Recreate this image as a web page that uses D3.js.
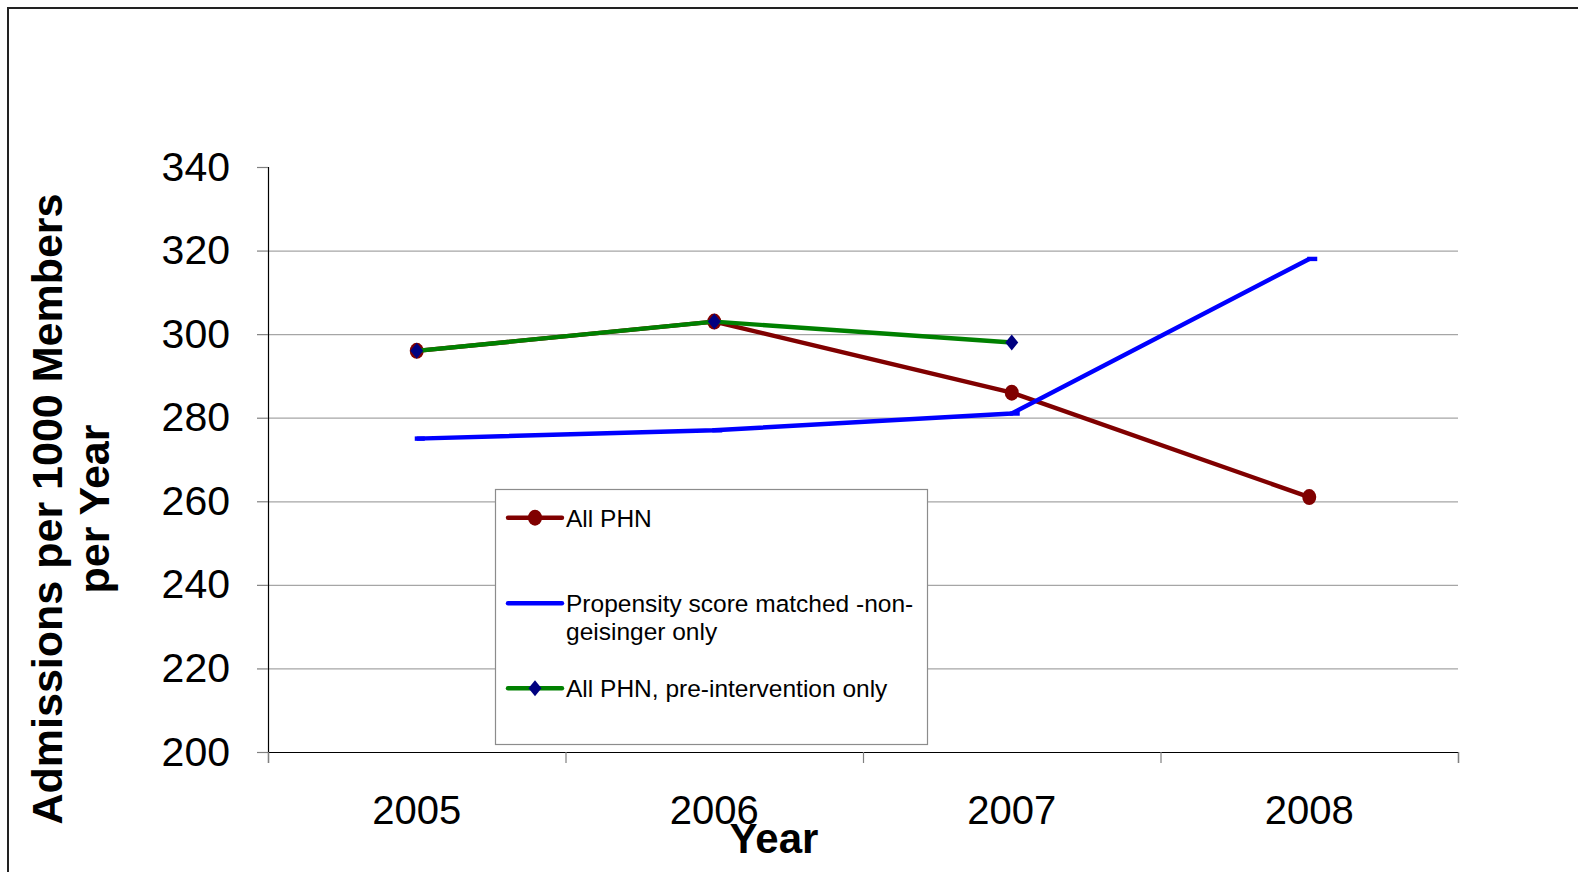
<!DOCTYPE html>
<html>
<head>
<meta charset="utf-8">
<script src="https://cdn.jsdelivr.net/npm/d3@7"></script>
<style>
  body { margin: 0; background: #fff; }
  svg text { font-family: "Liberation Sans", Arial, sans-serif; }
</style>
</head>
<body>
<div id="chart"></div>
<script>
/* DATA */
const years = ["2005", "2006", "2007", "2008"];
const allPHN = [296, 303, 286, 261];
const propensity = [275, 277, 281, 318];
const preIntervention = [296, 303, 298];
const yTicks = [200, 220, 240, 260, 280, 300, 320, 340];
const legendLabels = [
  ["All PHN"],
  ["Propensity score matched -non-", "geisinger only"],
  ["All PHN, pre-intervention only"]
];

/* LAYOUT */
const width = 1578, height = 872;
const margin = { top: 167, left: 268 };
const plotRight = 1458, plotBottom = 752;

const svg = d3.select("#chart").append("svg")
  .attr("width", width)
  .attr("height", height);

// outer frame (top + left edges visible)
svg.append("path")
  .attr("d", `M8,${height} L8,8 L${width},8`)
  .attr("fill", "none")
  .attr("stroke", "#222")
  .attr("stroke-width", 2);

// scales
const xScale = d3.scaleBand()
  .domain(years)
  .range([margin.left, plotRight])
  .padding(0);
const cx = d => xScale(d) + xScale.bandwidth() / 2;

const yScale = d3.scaleLinear()
  .domain([200, 340])
  .range([plotBottom, margin.top]);

// gridlines
const grid = svg.append("g")
  .attr("transform", `translate(${margin.left},0)`)
  .call(d3.axisLeft(yScale)
    .tickValues(yTicks.filter(t => t !== 200 && t !== 340))
    .tickSize(-(plotRight - margin.left))
    .tickFormat(""));
grid.select(".domain").remove();
grid.selectAll("line").attr("stroke", "#a6a6a6").attr("stroke-width", 1.2);

// y axis
const yAxisGroup = svg.append("g")
  .attr("transform", `translate(${margin.left},0)`)
  .call(d3.axisLeft(yScale)
    .tickValues(yTicks)
    .tickSize(11)
    .tickPadding(27));
yAxisGroup.select(".domain").attr("stroke", "#000").attr("stroke-width", 1.2);
yAxisGroup.selectAll("line").attr("stroke", "#808080").attr("stroke-width", 1.2);
yAxisGroup.selectAll("text")
  .attr("font-size", 41)
  .attr("fill", "#000")
  .attr("font-family", "Liberation Sans, Arial, sans-serif");

// x axis: boundary ticks
const edgeScale = d3.scaleLinear().domain([0, years.length]).range([margin.left, plotRight]);
const xEdge = svg.append("g")
  .attr("transform", `translate(0,${plotBottom})`)
  .call(d3.axisBottom(edgeScale).ticks(years.length).tickSize(11).tickFormat(""));
xEdge.select(".domain").attr("stroke", "#000").attr("stroke-width", 1.2);
xEdge.selectAll("line").attr("stroke", "#808080").attr("stroke-width", 1.2);

// x axis labels
const xLabels = svg.append("g")
  .attr("transform", `translate(0,${plotBottom})`)
  .call(d3.axisBottom(xScale).tickSize(0).tickPadding(44));
xLabels.select(".domain").remove();
xLabels.selectAll("text")
  .attr("font-size", 40)
  .attr("fill", "#000")
  .attr("font-family", "Liberation Sans, Arial, sans-serif");

// axis titles
svg.append("text")
  .attr("x", 774)
  .attr("y", 853)
  .attr("text-anchor", "middle")
  .attr("font-size", 42)
  .attr("font-weight", "bold")
  .text("Year");

const yTitle = svg.append("text")
  .attr("transform", `translate(62,509) rotate(-90)`)
  .attr("text-anchor", "middle")
  .attr("font-size", 43)
  .attr("font-weight", "bold");
yTitle.append("tspan").attr("x", 0).attr("y", 0).text("Admissions per 1000 Members");
yTitle.append("tspan").attr("x", 0).attr("y", 47).text("per Year");

// lines
const lineGen = d3.line()
  .x((d, i) => cx(years[i]))
  .y(d => yScale(d));

const series = [
  { key: "red", values: allPHN, color: "#800000" },
  { key: "blue", values: propensity, color: "#0000ff" },
  { key: "green", values: preIntervention, color: "#008000" }
];

function drawMarkers(g, s) {
  const pts = s.values.map((v, i) => ({ x: cx(years[i]), y: yScale(v) }));
  if (s.key === "red") {
    g.selectAll("ellipse").data(pts).join("ellipse")
      .attr("cx", d => d.x).attr("cy", d => d.y)
      .attr("rx", 7).attr("ry", 8)
      .attr("fill", "#800000");
  } else if (s.key === "blue") {
    g.selectAll("rect").data(pts).join("rect")
      .attr("x", d => d.x - 2).attr("y", d => d.y - 2.2)
      .attr("width", 10).attr("height", 4.4)
      .attr("fill", "#0000ff");
  } else {
    g.selectAll("path").data(pts).join("path")
      .attr("d", d => `M${d.x},${d.y - 8} L${d.x + 6.5},${d.y} L${d.x},${d.y + 8} L${d.x - 6.5},${d.y} Z`)
      .attr("fill", "#000080");
  }
}

series.forEach(s => {
  svg.append("path")
    .datum(s.values)
    .attr("fill", "none")
    .attr("stroke", s.color)
    .attr("stroke-width", 4.4)
    .attr("stroke-linejoin", "round")
    .attr("d", lineGen);
  drawMarkers(svg.append("g"), s);
});

// legend
const legend = svg.append("g");
legend.append("rect")
  .attr("x", 495.5).attr("y", 489.5)
  .attr("width", 432).attr("height", 255)
  .attr("fill", "#fff")
  .attr("stroke", "#8c8c8c")
  .attr("stroke-width", 1.2);

const legendY = [517.7, 603.3, 688.3];
series.forEach((s, i) => {
  const y = legendY[i];
  legend.append("line")
    .attr("x1", 508).attr("x2", 562)
    .attr("y1", y).attr("y2", y)
    .attr("stroke", s.color)
    .attr("stroke-width", 4.4)
    .attr("stroke-linecap", "round");
  const mk = legend.append("g");
  if (s.key === "red") {
    mk.append("ellipse").attr("cx", 535).attr("cy", y).attr("rx", 7).attr("ry", 8).attr("fill", "#800000");
  } else if (s.key === "green") {
    mk.append("path")
      .attr("d", `M535,${y - 8} L541.5,${y} L535,${y + 8} L528.5,${y} Z`)
      .attr("fill", "#000080");
  }
  const t = legend.append("text")
    .attr("x", 566)
    .attr("y", y + 8.8)
    .attr("font-size", 24.5)
    .attr("fill", "#000");
  legendLabels[i].forEach((line, j) => {
    t.append("tspan").attr("x", 566).attr("dy", j === 0 ? 0 : 28).text(line);
  });
});
</script>
</body>
</html>
